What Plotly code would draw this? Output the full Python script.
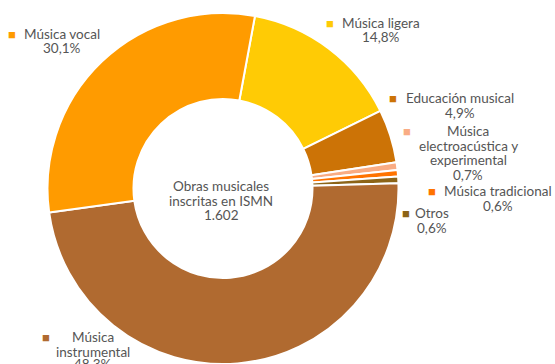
import plotly.graph_objects as go

W, H = 555, 364

# data (clockwise from the top)
labels = ["Música ligera", "Educación musical", "Música electroacústica y experimental",
          "Música tradicional", "Otros", "Música instrumental", "Música vocal"]
values = [14.8, 4.9, 0.7, 0.6, 0.6, 48.3, 30.1]
label_lines = [["Música ligera", "14,8%"], ["Educación musical", "4,9%"],
               ["Música", "electroacústica y", "experimental", "0,7%"],
               ["Música tradicional", "0,6%"], ["Otros", "0,6%"],
               ["Música", "instrumental", "48,3%"], ["Música vocal", "30,1%"]]
colors = ["#FFCB05", "#CC7306", "#F9AC84", "#FF7300", "#8C6417", "#B06A30", "#FF9B00"]
center_lines = ["Obras musicales", "inscritas en ISMN", "1.602"]

# label placement in pixels: (text centre x, first line y, square x, square y)
label_pos = [(381, 23, 330, 23), (460, 98, 393, 98), (468, 131, 407, 131),
             (498, 191, 432, 191), (432, 213, 406, 213), (93, 337, 46, 337),
             (62, 34, 12, 34)]
LINE = 14.5

def px(x):
    return x / W

def py(y):
    return min(1, max(0, 1 - y / H))

cx, cy, r = 223, 189, 176
fig = go.Figure(go.Pie(
    labels=labels, values=values, sort=False, direction="clockwise",
    rotation=10.5, hole=0.51, textinfo="none", hoverinfo="label+percent",
    marker=dict(colors=colors, line=dict(color="white", width=2)),
    domain=dict(x=[px(cx - r), px(cx + r)], y=[py(cy + r), py(cy - r)]),
))

font = dict(size=13.5, color="#555555")
annotations = []
for lines, col, (tx, ty, sx, sy) in zip(label_lines, colors, label_pos):
    for i, line in enumerate(lines):
        annotations.append(dict(x=px(tx), y=py(ty + i * LINE), xref="paper", yref="paper",
                                text=line, showarrow=False, xanchor="center",
                                yanchor="middle", font=font))
    annotations.append(dict(x=px(sx), y=py(sy), xref="paper", yref="paper",
                            text="■", showarrow=False, xanchor="center", yanchor="middle",
                            font=dict(size=13, color=col)))
for i, line in enumerate(center_lines):
    annotations.append(dict(x=px(221), y=py(186 + i * LINE), xref="paper", yref="paper",
                            text=line, showarrow=False, xanchor="center",
                            yanchor="middle", font=font))

fig.update_layout(width=W, height=H, margin=dict(l=0, r=0, t=0, b=0),
                  paper_bgcolor="white", plot_bgcolor="white", showlegend=False,
                  font=dict(family="Lato, Open Sans, sans-serif"),
                  annotations=annotations)

# drop the default page margin so the figure sits at the window's corner
fig.write_html("out.html", config={"displayModeBar": False},
               post_script="document.body.style.margin='0';")
